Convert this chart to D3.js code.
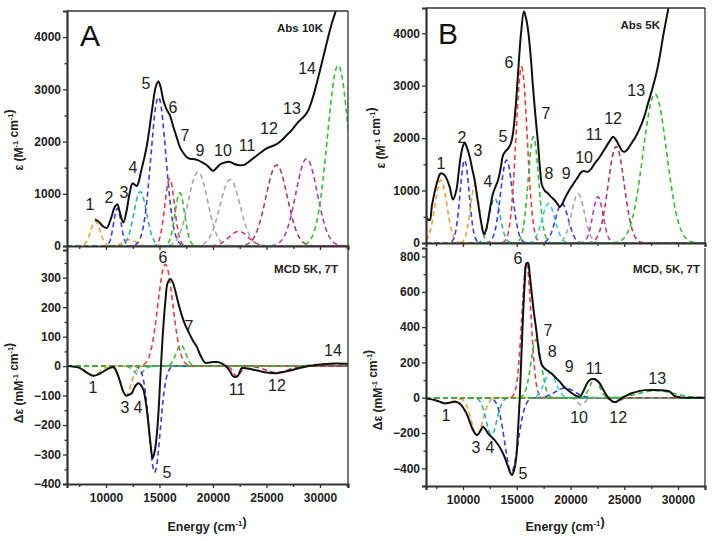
<!DOCTYPE html>
<html>
<head>
<meta charset="utf-8">
<script src="https://cdn.jsdelivr.net/npm/d3@7"></script>
<style>
  body { margin: 0; background: #fff; }
  text { font-family: Arial, "Liberation Sans", sans-serif; }
</style>
</head>
<body>
<svg width="714" height="541"></svg>
<script>
// ---- data ----
var energyTicks = [10000, 15000, 20000, 25000, 30000];
var absTicks = [0, 1000, 2000, 3000, 4000];
var mcdTicksA = [-400, -300, -200, -100, 0, 100, 200, 300];
var mcdTicksB = [-400, -200, 0, 200, 400, 600, 800];

// total spectra [energy, value]
var absA = [[8970,510],[9300,470],[9700,380],[10060,345],[10450,520],[10800,740],[11060,800],[11300,640],[11620,450],[11900,650],[12200,1000],[12490,1200],[12870,1150],[13300,1450],[13800,1900],[14300,2600],[14650,3050],[14890,3150],[15100,3050],[15360,2790],[15650,2620],[15980,2500],[16300,2280],[16600,2090],[16900,1900],[17230,1780],[17550,1700],[17850,1670],[18300,1660],[18630,1640],[19000,1600],[19400,1550],[19750,1480],[20030,1440],[20350,1500],[20650,1560],[21100,1600],[21590,1610],[22000,1570],[22300,1550],[22700,1545],[22990,1560],[23400,1620],[23770,1680],[24400,1780],[25010,1870],[25500,1910],[25950,1950],[26400,2020],[26880,2120],[27400,2230],[27820,2340],[28300,2440],[28600,2500],[28910,2600],[29300,2820],[29690,3110],[30000,3360],[30310,3620],[30620,3880],[30930,4130],[31250,4360],[31490,4510],[31700,4700]];
var mcdA = [[6400,0],[7000,-2],[7570,-7],[8200,-22],[8820,-33],[9450,-25],[10060,-12],[10690,-3],[11000,-20],[11310,-52],[11600,-85],[11870,-100],[12150,-97],[12400,-92],[12700,-70],[13020,-58],[13250,-64],[13490,-80],[13750,-130],[13960,-194],[14150,-260],[14360,-313],[14550,-290],[14730,-239],[14900,-160],[15050,-58],[15200,40],[15360,135],[15550,220],[15760,282],[16040,296],[16250,283],[16450,259],[16750,215],[17070,174],[17400,140],[17690,118],[18100,88],[18470,67],[18850,35],[19250,12],[19650,12],[20030,14],[20350,14],[20650,12],[21000,5],[21280,-3],[21600,-18],[21900,-35],[22270,-35],[22500,-20],[22680,-7],[23200,-8],[23770,-12],[24400,-17],[25010,-22],[25950,-24],[26600,-20],[27200,-15],[28000,-7],[28750,-1],[29500,3],[30310,6],[31000,8],[31560,9],[32620,8]];
var absB = [[6558,500],[6900,433],[7100,700],[7365,975],[7650,1200],[7920,1325],[8290,1293],[8550,1190],[8760,1070],[9070,828],[9380,1006],[9600,1350],[9780,1643],[10000,1850],[10155,1910],[10400,1800],[10620,1643],[10850,1420],[11085,1197],[11300,900],[11460,688],[11700,380],[11955,165],[12150,250],[12330,433],[12550,700],[12790,943],[13000,1060],[13260,1197],[13500,1420],[13730,1675],[14000,1760],[14190,1800],[14450,1900],[14650,2090],[14900,2600],[15120,3236],[15400,4000],[15670,4414],[15850,4300],[16050,4064],[16300,3550],[16510,2980],[16750,2400],[16980,1898],[17150,1450],[17350,1100],[17600,1000],[17910,943],[18200,880],[18530,815],[18800,740],[19000,688],[19200,730],[19460,847],[19750,960],[20080,1070],[20400,1170],[20700,1261],[20950,1340],[21170,1370],[21400,1365],[21630,1357],[21950,1420],[22250,1516],[22650,1620],[23020,1739],[23450,1880],[23800,1990],[23960,2025],[24250,1960],[24580,1834],[24800,1760],[25040,1739],[25350,1800],[25660,1898],[26050,2020],[26440,2185],[26850,2400],[27210,2662],[27600,2930],[27990,3236],[28300,3550],[28610,3936],[28850,4200],[29080,4446],[29300,4700]];
var mcdB = [[6558,-4],[7000,-8],[7365,-13],[7800,-22],[8290,-32],[8750,-28],[9225,-23],[9550,-28],[9845,-42],[10150,-70],[10465,-108],[10700,-150],[10930,-183],[11150,-205],[11333,-211],[11600,-190],[11860,-164],[12100,-180],[12325,-202],[12650,-222],[12945,-240],[13250,-265],[13565,-296],[13900,-340],[14190,-391],[14400,-425],[14560,-438],[14750,-410],[14960,-334],[15120,-180],[15270,-13],[15420,220],[15580,459],[15750,660],[15890,760],[16050,764],[16200,700],[16360,610],[16600,480],[16820,383],[16980,300],[17130,232],[17350,185],[17600,166],[17900,152],[18220,138],[18600,115],[19000,91],[19400,62],[19770,43],[20100,27],[20390,15],[20650,8],[20855,6],[21100,25],[21320,53],[21550,82],[21785,100],[22000,106],[22190,106],[22450,98],[22720,81],[23050,45],[23340,15],[23650,-8],[23960,-23],[24270,-23],[24500,-14],[24740,-4],[25200,12],[25670,25],[26300,36],[26900,43],[27700,44],[28450,43],[28900,40],[29230,34],[29450,22],[29700,9],[30200,2],[30940,0],[32512,0]];

// gaussian bands [centre, height, width]
var absA_bands = [[9000,470,450],[11060,720,350],[12200,120,600],[13200,1040,600],[14900,2850,700],[15950,1290,450],[16900,1020,450],[18600,1420,900],[21600,1270,950],[22400,280,900],[25950,1550,1000],[28750,1670,1000],[31700,3460,1000]];
var mcdA_bands = [[8800,-33,600],[11850,-100,500],[13050,-28,450],[14550,-360,520],[15550,345,700],[17000,72,450],[22250,-35,350],[25950,-22,1000],[31200,9,1500]];
var absB_bands = [[7950,1200,550],[10150,1580,420],[11100,1100,420],[12950,850,500],[14050,1580,550],[15450,3360,520],[16550,2025,480],[17950,750,600],[19200,750,600],[20700,940,600],[22550,880,480],[24250,1840,750],[27850,2840,1100]];
var mcdB_bands = [[8400,-30,800],[11300,-210,550],[12650,-210,500],[14500,-420,620],[15900,760,430],[16800,330,480],[18100,140,550],[19500,55,900],[21000,-40,350],[22250,106,450],[24200,-25,400],[28000,40,1600]];

// peak numbers [text, energy, value]
var absA_labels = [["1",8505,803],["2",10280,937],["3",11680,1032],["4",12520,1510],["5",13740,3117],["6",16260,2658],["7",17380,2122],["9",18790,1836],["10",20930,1836],["11",23180,1931],["12",25230,2256],["13",27380,2639],["14",28790,3403]];
var mcdA_labels = [["1",8785,-73],["3",11776,-141],["4",12990,-141],["5",15700,-361],["6",15330,371],["7",17760,134],["11",22240,-80],["12",25980,-66],["14",31215,55]];
var absB_labels = [["1",7950,1524],["2",9907,2019],["3",11396,1771],["4",12327,1181],["5",13724,2038],["6",14283,3448],["7",17728,2476],["8",18007,1333],["9",19590,1333],["10",21266,1638],["11",22197,2076],["12",23966,2381],["13",26107,2914]];
var mcdB_labels = [["1",8417,-98],["3",11210,-279],["4",12514,-279],["5",15587,-427],["6",15121,792],["7",17914,385],["8",18287,261],["9",19870,181],["10",20800,-109],["11",22197,168],["12",24432,-109],["13",28063,112]];

// ---- styles ----
var C = {o:"#f0a030", b:"#3b3bf0", t:"#2fb0b0", r:"#f03c3c", g:"#30c030", k:"#a8a8a8", m:"#e0308c", br:"#b03a50", p:"#a23ec8", c:"#30d0e0"};
var absA_cols = [C.o,C.b,C.o,C.t,C.b,C.r,C.g,C.k,C.k,C.m,C.br,C.p,C.g];
var mcdA_cols = [C.o,C.o,C.t,C.b,C.r,C.g,C.m,C.br,C.g];
var absB_cols = [C.o,C.b,C.o,C.t,C.b,C.r,C.g,C.c,C.b,C.k,C.p,C.br,C.g];
var mcdB_cols = [C.o,C.o,C.t,C.b,C.r,C.g,C.c,C.b,C.k,C.g,C.br,C.g];

var svg = d3.select("svg");

var panels = [
  {id:"pa1", px:[67,348], py:[246,11], xd:[6355,32620], yd:[0,4500], ticks:absTicks, minor:500,
   line:absA, bands:absA_bands, cols:absA_cols, labels:absA_labels, top:true, xlab:false,
   tag:"Abs 10K", tagX:323, tagY:32, big:"A", bigX:90, bigY:46,
   ytitle:"abs", ytx:23, yty:140},
  {id:"pa2", px:[67,348], py:[484,250], xd:[6355,32620], yd:[-400,394], ticks:mcdTicksA, minor:50,
   line:mcdA, bands:mcdA_bands, cols:mcdA_cols, labels:mcdA_labels, top:false, xlab:true,
   tag:"MCD 5K, 7T", tagX:338, tagY:273,
   ytitle:"mcd", ytx:23, yty:383, xtx:207},
  {id:"pb1", px:[426,705], py:[243,8], xd:[6558,32512], yd:[0,4480], ticks:absTicks, minor:500,
   line:absB, bands:absB_bands, cols:absB_cols, labels:absB_labels, top:true, xlab:false,
   tag:"Abs 5K", tagX:660, tagY:29, big:"B", bigX:448, bigY:44,
   ytitle:"abs", ytx:385, yty:138},
  {id:"pb2", px:[426,705], py:[486,248], xd:[6558,32512], yd:[-500,848], ticks:mcdTicksB, minor:100,
   line:mcdB, bands:mcdB_bands, cols:mcdB_cols, labels:mcdB_labels, top:false, xlab:true,
   tag:"MCD, 5K, 7T", tagX:700, tagY:273,
   ytitle:"mcd", ytx:382, yty:390, xtx:565}
];

function supText(sel, parts, size) {
  parts.forEach(function (p) {
    if (p[1]) {
      sel.append("tspan").attr("dy", -size * 0.4).attr("font-size", size * 0.62).text(p[0]);
      sel.append("tspan").attr("dy", size * 0.4).attr("font-size", size).text("");
    } else {
      sel.append("tspan").text(p[0]);
    }
  });
}

panels.forEach(function (P) {
  var x = d3.scaleLinear().domain(P.xd).range(P.px);
  var y = d3.scaleLinear().domain(P.yd).range(P.py);
  var g = svg.append("g");

  g.append("clipPath").attr("id", "clip-" + P.id)
    .append("rect").attr("x", P.px[0]).attr("y", P.py[1])
    .attr("width", P.px[1] - P.px[0]).attr("height", P.py[0] - P.py[1]);

  var plot = g.append("g").attr("clip-path", "url(#clip-" + P.id + ")");

  // dashed gaussian components
  var grid = d3.range(P.xd[0], P.xd[1] + 50, 50);
  var bandLine = d3.line().x(function (d) { return x(d[0]); }).y(function (d) { return y(d[1]); });
  P.bands.forEach(function (b, i) {
    var pts = grid.map(function (e) {
      return [e, b[1] * Math.exp(-Math.pow(e - b[0], 2) / (2 * b[2] * b[2]))];
    });
    plot.append("path").attr("d", bandLine(pts))
      .attr("fill", "none").attr("stroke", P.cols[i])
      .attr("stroke-width", 1.6).attr("stroke-dasharray", "5,3.5");
  });

  // total spectrum
  var line = d3.line().curve(d3.curveCatmullRom.alpha(0.5))
    .x(function (d) { return x(d[0]); }).y(function (d) { return y(d[1]); });
  plot.append("path").attr("d", line(P.line))
    .attr("fill", "none").attr("stroke", "#111").attr("stroke-width", 2);

  // frame
  var ax = "#333";
  g.append("line").attr("x1", P.px[1]).attr("x2", P.px[1]).attr("y1", P.py[1]).attr("y2", P.py[0])
    .attr("stroke", ax).attr("stroke-width", 1.3);
  if (P.top) {
    g.append("line").attr("x1", P.px[0]).attr("x2", P.px[1]).attr("y1", P.py[1]).attr("y2", P.py[1])
      .attr("stroke", ax).attr("stroke-width", 1.3);
  }

  // y axis
  var yMinor = d3.range(P.ticks[0] - P.minor, P.yd[1], P.minor).filter(function (v) {
    return P.ticks.indexOf(v) < 0 && v >= P.yd[0] && v <= P.yd[1];
  });
  g.append("g").attr("transform", "translate(" + P.px[0] + ",0)")
    .call(d3.axisLeft(y).tickValues(P.ticks).tickSize(4).tickPadding(2).tickFormat(d3.format("d")));
  g.append("g").attr("transform", "translate(" + P.px[0] + ",0)")
    .call(d3.axisLeft(y).tickValues(yMinor).tickSize(2.5).tickFormat(""))
    .call(function (s) { s.select(".domain").remove(); });

  // x axis
  var xMinor = energyTicks.map(function (v) { return v - 2500; }).concat([32500]).filter(function (v) { return v > P.xd[0] && v < P.xd[1]; });
  g.append("g").attr("transform", "translate(0," + P.py[0] + ")")
    .call(d3.axisBottom(x).tickValues(energyTicks).tickSize(4).tickPadding(5)
      .tickFormat(P.xlab ? d3.format("d") : ""));
  g.append("g").attr("transform", "translate(0," + P.py[0] + ")")
    .call(d3.axisBottom(x).tickValues(xMinor).tickSize(3).tickFormat(""))
    .call(function (s) { s.select(".domain").remove(); });

  g.selectAll(".domain").attr("stroke", ax).attr("stroke-width", 2.2);
  g.selectAll(".tick line").attr("stroke", ax).attr("stroke-width", 1.3);
  g.selectAll(".tick text").attr("font-size", 12).attr("font-weight", "bold")
    .attr("fill", "#222").attr("font-family", "Arial, 'Liberation Sans', sans-serif");

  // peak numbers
  g.selectAll("text.pk").data(P.labels).enter().append("text")
    .attr("class", "pk")
    .attr("x", function (d) { return x(d[1]); })
    .attr("y", function (d) { return y(d[2]); })
    .attr("dy", "0.36em")
    .attr("text-anchor", "middle")
    .attr("font-size", 16).attr("fill", "#222")
    .text(function (d) { return d[0]; });

  // tag in corner
  g.append("text").attr("x", P.tagX).attr("y", P.tagY).attr("text-anchor", "end")
    .attr("font-size", 11.5).attr("font-weight", "bold").attr("fill", "#222").text(P.tag);

  if (P.big) {
    g.append("text").attr("x", P.bigX).attr("y", P.bigY).attr("text-anchor", "middle")
      .attr("font-size", 30).attr("fill", "#111").text(P.big);
  }

  // y title (baseline at ytx)
  var yt = g.append("text")
    .attr("transform", "translate(" + P.ytx + "," + P.yty + ") rotate(-90)")
    .attr("text-anchor", "middle")
    .attr("font-size", 12).attr("font-weight", "bold").attr("fill", "#222");
  if (P.ytitle === "abs") {
    supText(yt, [["\u03b5 (M", 0], ["-1", 1], [" cm", 0], ["-1", 1], [")", 0]], 12);
  } else {
    supText(yt, [["\u0394\u03b5 (mM", 0], ["-1", 1], [" cm", 0], ["-1", 1], [")", 0]], 12);
  }

  // x title
  if (P.xlab) {
    var xt = g.append("text").attr("x", P.xtx).attr("y", 531).attr("text-anchor", "middle")
      .attr("font-size", 12.5).attr("font-weight", "bold").attr("fill", "#222");
    supText(xt, [["Energy (cm", 0], ["-1", 1], [")", 0]], 12.5);
  }
});
</script>
</body>
</html>
